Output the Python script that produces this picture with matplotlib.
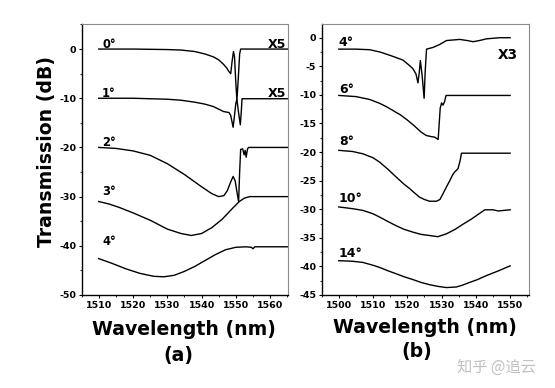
import matplotlib
matplotlib.use('Agg')
import matplotlib.pyplot as plt
from matplotlib.ticker import MultipleLocator

plt.rcParams['font.family'] = 'DejaVu Sans'
plt.rcParams['font.weight'] = 'bold'
plt.rcParams['axes.unicode_minus'] = False

# ---- panel (a): tilt angles 0..4 deg, curves offset by 10 dB ----
wl_a0 = [1510, 1520, 1530, 1534, 1538, 1541, 1543.5, 1545, 1546.4, 1547.4, 1548.0, 1548.5,
         1548.9, 1549.3, 1549.6, 1550.0, 1550.3, 1550.7, 1551.1, 1551.4, 1565]
tr_a0 = [0, 0, -0.1, -0.2, -0.5, -1.0, -1.6, -2.2, -3.1, -3.9, -4.6, -5.0,
         -2.5, -0.5, -1.5, -7.0, -10.4, -6.0, -1.0, 0, 0]

wl_a1 = [1510, 1520, 1525, 1530, 1534, 1538, 1541, 1543.5, 1546.4, 1548.0, 1548.5, 1549.2,
         1549.6, 1550.0, 1550.3, 1550.7, 1551.3, 1551.6, 1551.8, 1565]
tr_a1 = [-10, -10, -10.1, -10.2, -10.4, -10.8, -11.2, -11.7, -12.7, -12.9, -13.5, -15.9,
         -13.5, -11.0, -10.2, -12.5, -15.4, -12.5, -10.1, -10.1]

wl_a2 = [1510, 1515, 1520, 1525, 1530, 1535, 1540, 1543, 1545, 1546.5, 1547.5, 1548.5,
         1549.2, 1549.8, 1550.3, 1550.8, 1551.1, 1551.4, 1552.0, 1552.4, 1552.7, 1553.0,
         1553.4, 1553.7, 1565]
tr_a2 = [-20, -20.2, -20.7, -21.6, -23.3, -25.5, -28.0, -29.4, -30.0, -29.8, -28.8, -27.0,
         -25.9, -26.8, -29.0, -31.0, -25.0, -20.4, -20.3, -21.5, -20.6, -22.0,
         -20.3, -20.0, -20.0]

wl_a3 = [1510, 1513, 1516, 1520, 1525, 1530, 1534, 1537, 1540, 1543, 1546, 1549, 1551,
         1552.5, 1554, 1565]
tr_a3 = [-31.0, -31.5, -32.2, -33.3, -34.8, -36.6, -37.5, -37.9, -37.5, -36.3, -34.6, -32.4, -31.0,
         -30.3, -30.0, -30.0]

wl_a4 = [1510, 1514, 1518, 1522, 1526, 1529, 1532, 1535, 1538, 1541, 1544, 1547, 1550,
         1553, 1554.5, 1555, 1555.5, 1565]
tr_a4 = [-42.6, -43.6, -44.7, -45.6, -46.2, -46.3, -46.0, -45.2, -44.2, -43.0, -41.8, -40.8, -40.3,
         -40.2, -40.3, -40.6, -40.2, -40.2]

# ---- panel (b): tilt angles 4..14 deg ----
wl_b4 = [1500, 1505, 1509, 1512, 1515, 1518.7, 1520.7, 1521.6, 1522.5, 1523.1, 1523.5, 1523.8,
         1524.3, 1524.9, 1525.2, 1525.6, 1527.5, 1529.4, 1531.4, 1535.3, 1537.5, 1539.2,
         1541, 1543.1, 1547, 1550]
tr_b4 = [-2.0, -2.0, -2.1, -2.5, -3.1, -3.9, -4.9, -5.4, -6.3, -7.9, -6.0, -4.0,
         -6.5, -10.6, -6.0, -2.0, -1.7, -1.2, -0.5, -0.3, -0.5, -0.7,
         -0.5, -0.2, 0, 0]

wl_b6 = [1500, 1505, 1509, 1512, 1514, 1516, 1518, 1520, 1522, 1524, 1525.5, 1527, 1528,
         1529, 1529.3, 1529.6, 1530, 1530.4, 1530.8, 1531.3, 1550]
tr_b6 = [-10.1, -10.3, -10.8, -11.5, -12.1, -12.8, -13.5, -14.4, -15.4, -16.5, -17.1, -17.3, -17.4,
         -17.8, -15.0, -12.3, -11.4, -11.8, -11.3, -10.1, -10.1]

wl_b8 = [1500, 1504, 1507, 1510, 1512, 1514.5, 1516.8, 1519, 1520.7, 1522, 1523.6, 1525, 1526.5,
         1528.5, 1529.5, 1530.4, 1531.5, 1532.4, 1533.2, 1533.8, 1534.8, 1535.4, 1535.8, 1550]
tr_b8 = [-19.7, -19.9, -20.3, -21.0, -21.8, -23.1, -24.4, -25.6, -26.4, -27.1, -27.9, -28.3, -28.6,
         -28.6, -28.3, -27.3, -26.0, -25.0, -24.0, -23.5, -22.9, -21.5, -20.2, -20.2]

wl_b10 = [1500, 1504, 1507, 1510, 1512, 1514.5, 1516.8, 1519, 1521.6, 1524, 1526.5, 1528.9,
          1531.4, 1534, 1536.3, 1538.5, 1540.2, 1542.6, 1545, 1546.5, 1550]
tr_b10 = [-29.6, -29.9, -30.2, -30.8, -31.4, -32.2, -32.9, -33.5, -34.0, -34.4, -34.6, -34.8,
          -34.3, -33.5, -32.6, -31.8, -31.1, -30.1, -30.1, -30.3, -30.1]

wl_b14 = [1500, 1504, 1507, 1510, 1512, 1514.5, 1516.8, 1519, 1521.6, 1524, 1526.5, 1529,
          1531.4, 1534.3, 1536, 1538.2, 1540.5, 1543.1, 1546.5, 1550]
tr_b14 = [-39.0, -39.1, -39.3, -39.8, -40.2, -40.8, -41.3, -41.8, -42.3, -42.8, -43.2, -43.5,
          -43.7, -43.6, -43.3, -42.8, -42.3, -41.6, -40.8, -39.9]

labels_a = ['0°', '1°', '2°', '3°', '4°']
label_y_a = [0.3, -9.7, -19.7, -29.7, -39.9]
labels_b = ['4°', '6°', '8°', '10°', '14°']
label_y_b = [-1.5, -9.6, -18.7, -28.8, -38.3]

fig = plt.figure(figsize=(5.55, 3.88), dpi=100)
ax_a = fig.add_axes([0.147, 0.2397, 0.3725, 0.6985])
ax_b = fig.add_axes([0.5796, 0.2397, 0.3735, 0.6985])

curves_a = [(wl_a0, tr_a0), (wl_a1, tr_a1), (wl_a2, tr_a2), (wl_a3, tr_a3), (wl_a4, tr_a4)]
curves_b = [(wl_b4, tr_b4), (wl_b6, tr_b6), (wl_b8, tr_b8), (wl_b10, tr_b10), (wl_b14, tr_b14)]

for wl, tr in curves_a:
    ax_a.plot(wl, tr, color='black', lw=1.0)
for wl, tr in curves_b:
    ax_b.plot(wl, tr, color='black', lw=1.0)

for lab, y in zip(labels_a, label_y_a):
    ax_a.text(1511.0, y, lab, fontsize=8.3, fontweight='bold', va='baseline', ha='left')
ax_a.text(1564.8, 0.2, 'X5', fontsize=9, fontweight='bold', va='baseline', ha='right')
ax_a.text(1564.8, -9.8, 'X5', fontsize=9, fontweight='bold', va='baseline', ha='right')

for lab, y in zip(labels_b, label_y_b):
    ax_b.text(1500.0, y, lab, fontsize=9, fontweight='bold', va='baseline', ha='left')
ax_b.text(1546.4, -3.8, 'X3', fontsize=9.8, fontweight='bold', va='baseline', ha='left')

ax_a.set_xlim(1505, 1565.3)
ax_a.set_ylim(-50, 5.1)
ax_a.yaxis.set_major_locator(MultipleLocator(10))
ax_a.yaxis.set_minor_locator(MultipleLocator(5))

ax_b.set_xlim(1495, 1555.5)
ax_b.set_ylim(-45, 2.4)
ax_b.yaxis.set_major_locator(MultipleLocator(5))
ax_b.yaxis.set_minor_locator(MultipleLocator(2.5))

for ax in (ax_a, ax_b):
    ax.xaxis.set_major_locator(MultipleLocator(10))
    ax.xaxis.set_minor_locator(MultipleLocator(5))
    ax.tick_params(which='major', direction='out', length=2.5, width=0.8, pad=1.5,
                   labelsize=6.8, top=False, right=False)
    ax.tick_params(which='minor', direction='out', length=1.5, width=0.6, top=False, right=False)
    for lbl in ax.get_xticklabels() + ax.get_yticklabels():
        lbl.set_fontweight('bold')
    ax.spines['left'].set_linewidth(1.0)
    ax.spines['bottom'].set_linewidth(1.0)
    ax.spines['top'].set_color('#8a8a8a')
    ax.spines['right'].set_color('#8a8a8a')
    ax.spines['top'].set_linewidth(0.8)
    ax.spines['right'].set_linewidth(0.8)

fig.text(0.084, 0.61, 'Transmission (dB)', rotation=90, fontsize=13.6, fontweight='bold',
         ha='center', va='center')
fig.text(0.3315, 0.152, 'Wavelength (nm)', fontsize=13.6, fontweight='bold', ha='center', va='center')
fig.text(0.321, 0.085, '(a)', fontsize=13.6, fontweight='bold', ha='center', va='center')
fig.text(0.766, 0.155, 'Wavelength (nm)', fontsize=13.6, fontweight='bold', ha='center', va='center')
fig.text(0.751, 0.093, '(b)', fontsize=13.6, fontweight='bold', ha='center', va='center')

fig.text(0.895, 0.054, '知乎 @追云', fontsize=11, color='#c0c0c0', ha='center', va='center',
         family=['Noto Sans CJK SC', 'DejaVu Sans'], fontweight='normal')

fig.savefig('out.png', dpi=100)
